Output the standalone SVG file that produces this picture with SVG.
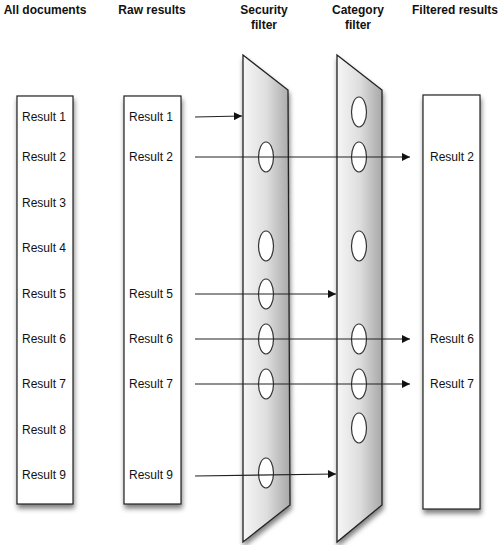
<svg xmlns="http://www.w3.org/2000/svg" width="500" height="545" viewBox="0 0 500 545">
<style>
.h{font-family:"Liberation Sans",Arial,sans-serif;font-size:12px;font-weight:bold;fill:#111;text-anchor:middle}
.t{font-family:"Liberation Sans",Arial,sans-serif;font-size:12px;fill:#111}
.box{fill:#fff;stroke:#222;stroke-width:1.2;filter:url(#sh)}
.flt{fill:url(#g);stroke:#222;stroke-width:1.3;filter:url(#sh)}
.hole{fill:#fff;stroke:#333;stroke-width:1.2}
.c{stroke:#222;stroke-width:1.2;fill:none;marker-end:url(#ah)}
</style>
<defs>
<linearGradient id="g" x1="0" y1="0" x2="1" y2="0">
<stop offset="0" stop-color="#f6f6f6"/>
<stop offset="0.5" stop-color="#dedede"/>
<stop offset="1" stop-color="#a8a8a8"/>
</linearGradient>
<filter id="sh" x="-30%" y="-10%" width="160%" height="125%">
<feGaussianBlur in="SourceAlpha" stdDeviation="2.5"/>
<feOffset dx="1" dy="4" result="b"/>
<feComponentTransfer><feFuncA type="linear" slope="0.5"/></feComponentTransfer>
<feMerge><feMergeNode/><feMergeNode in="SourceGraphic"/></feMerge>
</filter>
<marker id="ah" viewBox="0 0 10 10" refX="10" refY="5" markerWidth="10" markerHeight="8" markerUnits="userSpaceOnUse" orient="auto">
<path d="M0,0 L10,5 L0,10 z" fill="#111"/>
</marker>
</defs>
<rect width="500" height="545" fill="#fff"/>
<g id="headers">
<text class="h" x="45" y="14">All documents</text>
<text class="h" x="152" y="14">Raw results</text>
<text class="h" x="264" y="14">Security</text>
<text class="h" x="264" y="29">filter</text>
<text class="h" x="358" y="14">Category</text>
<text class="h" x="358" y="29">filter</text>
<text class="h" x="455" y="14">Filtered results</text>
</g>
<g id="all-documents">
<rect class="box" x="17" y="96" width="56" height="408"/>
<text class="t" x="22" y="121">Result 1</text>
<text class="t" x="22" y="161">Result 2</text>
<text class="t" x="22" y="207">Result 3</text>
<text class="t" x="22" y="252">Result 4</text>
<text class="t" x="22" y="298">Result 5</text>
<text class="t" x="22" y="343">Result 6</text>
<text class="t" x="22" y="388">Result 7</text>
<text class="t" x="22" y="434">Result 8</text>
<text class="t" x="22" y="479">Result 9</text>
</g>
<g id="raw-results">
<rect class="box" x="124" y="96" width="57" height="408"/>
<text class="t" x="129" y="121">Result 1</text>
<text class="t" x="129" y="161">Result 2</text>
<text class="t" x="129" y="298">Result 5</text>
<text class="t" x="129" y="343">Result 6</text>
<text class="t" x="129" y="388">Result 7</text>
<text class="t" x="129" y="479">Result 9</text>
</g>
<g id="security-filter">
<path class="flt" d="M243,55 L288,90 L290,505 L243,542 Z"/>
<ellipse class="hole" cx="266" cy="157" rx="7.5" ry="15"/>
<ellipse class="hole" cx="266" cy="246" rx="7.5" ry="15"/>
<ellipse class="hole" cx="266" cy="294" rx="7.5" ry="15"/>
<ellipse class="hole" cx="266" cy="339" rx="7.5" ry="15"/>
<ellipse class="hole" cx="266" cy="384" rx="7.5" ry="15"/>
<ellipse class="hole" cx="266" cy="473" rx="7.5" ry="15"/>
</g>
<g id="category-filter">
<path class="flt" d="M337,55 L382,90 L382,505 L337,542 Z"/>
<ellipse class="hole" cx="359" cy="112" rx="7.5" ry="15"/>
<ellipse class="hole" cx="359" cy="157" rx="7.5" ry="15"/>
<ellipse class="hole" cx="359" cy="246" rx="7.5" ry="15"/>
<ellipse class="hole" cx="359" cy="339" rx="7.5" ry="15"/>
<ellipse class="hole" cx="359" cy="384" rx="7.5" ry="15"/>
<ellipse class="hole" cx="359" cy="428" rx="7.5" ry="15"/>
</g>
<g id="filtered-results">
<rect class="box" x="423" y="95" width="57" height="414"/>
<text class="t" x="430" y="161">Result 2</text>
<text class="t" x="430" y="343">Result 6</text>
<text class="t" x="430" y="388">Result 7</text>
</g>
<g id="connectors">
<line class="c" x1="195" y1="117" x2="242" y2="116"/>
<line class="c" x1="195" y1="157" x2="410" y2="157"/>
<line class="c" x1="195" y1="294" x2="336" y2="294"/>
<line class="c" x1="195" y1="339" x2="410" y2="339"/>
<line class="c" x1="195" y1="384" x2="410" y2="384"/>
<line class="c" x1="195" y1="476" x2="336" y2="474"/>
</g>
</svg>
